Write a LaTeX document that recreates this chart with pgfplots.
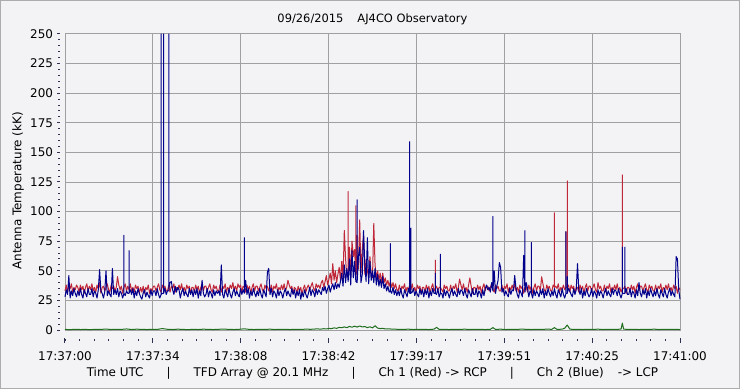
\documentclass[border=0pt]{standalone}
\usepackage{pgfplots}
\pgfplotsset{compat=1.18}
\usepackage{pgfplotstable}
\usepackage{fontspec}
\setmainfont{DejaVu Sans}
\definecolor{bgc}{HTML}{F3F3F5}
\definecolor{gridc}{HTML}{A0A0A0}
\definecolor{ch1}{HTML}{C0283A}
\definecolor{ch2}{HTML}{00008C}
\definecolor{ch3}{HTML}{1E6E1E}
\definecolor{tickc}{HTML}{303050}

\pgfplotstableread[row sep=\\]{
t r b\\
0 33 28\\ 0.5 38 34\\ 1 32 30\\ 1.5 37 46\\ 2 35 27\\ 2.5 39 33\\ 3 32 29\\ 3.5 36 35\\ 4 34 31\\ 4.5 38 28\\
5 36 33\\ 5.5 32 29\\ 6 38 35\\ 6.5 34 30\\ 7 37 27\\ 7.5 31 34\\ 8 36 31\\ 8.5 39 28\\ 9 33 35\\ 9.5 37 30\\
10 34 30\\ 10.5 39 35\\ 11 33 28\\ 11.5 36 33\\ 12 32 31\\ 12.5 38 27\\ 13 35 34\\ 13.5 40 51\\ 14 31 33\\ 14.5 36 31\\
15 37 27\\ 15.5 33 32\\ 16 36 50\\ 16.5 39 29\\ 17 34 33\\ 17.5 32 30\\ 18 38 28\\ 18.5 35 52\\ 19 37 30\\ 19.5 33 34\\
20 36 30\\ 20.5 45 35\\ 21 38 28\\ 21.5 34 33\\ 22 37 31\\ 22.5 31 27\\ 23 36 31\\ 23 36 80\\ 23 36 31\\ 23.5 39 29\\ 24 33 33\\ 24.5 37 31\\
25 34 31\\ 25 34 67\\ 25 34 31\\ 25.5 39 34\\ 26 33 30\\ 26.5 36 35\\ 27 32 27\\ 27.5 38 33\\ 28 35 29\\ 28.5 37 35\\ 29 31 31\\ 29.5 36 28\\
30 32 26\\ 30.5 37 31\\ 31 31 34\\ 31.5 36 28\\ 32 34 32\\ 32.5 38 29\\ 33 31 27\\ 33.5 35 34\\ 34 33 29\\ 34.5 37 33\\
35 37 33\\ 35.5 33 29\\ 36 36 35\\ 36.5 39 30\\ 37 34 27\\ 37.5 32 30\\ 37.5 32 250\\ 37.5 32 30\\ 38 38 31\\ 38.5 35 31\\ 38.5 35 250\\ 38.5 35 31\\ 39 37 35\\ 39.5 33 30\\
40 33 33\\ 40.5 38 33\\ 40.5 38 250\\ 40.5 38 35\\ 41 32 40\\ 41.5 37 41\\ 42 35 34\\ 42.5 39 30\\ 43 32 37\\ 43.5 36 32\\ 44 34 36\\ 44.5 38 34\\
45 34 27\\ 45.5 39 32\\ 46 33 35\\ 46.5 36 29\\ 47 32 33\\ 47.5 38 30\\ 48 35 28\\ 48.5 37 35\\ 49 31 30\\ 49.5 36 34\\
50 36 28\\ 50.5 32 34\\ 51 38 30\\ 51.5 34 35\\ 52 37 27\\ 52.5 31 33\\ 53 36 29\\ 53.5 39 42\\ 54 33 31\\ 54.5 37 28\\
55 37 30\\ 55.5 33 35\\ 56 36 28\\ 56.5 39 33\\ 57 34 31\\ 57.5 32 27\\ 58 38 34\\ 58.5 35 29\\ 59 37 33\\ 59.5 33 31\\
60 33 33\\ 60.5 38 29\\ 61 32 55\\ 61.5 37 30\\ 62 35 27\\ 62.5 39 34\\ 63 32 31\\ 63.5 36 28\\ 64 34 35\\ 64.5 38 30\\
65 35 27\\ 65.5 40 32\\ 66 34 35\\ 66.5 37 29\\ 67 33 33\\ 67.5 39 30\\ 68 36 28\\ 68.5 38 35\\ 69 32 30\\ 69.5 37 34\\
70 36 31\\ 70 36 78\\ 70 36 31\\ 70.5 32 42\\ 71 38 30\\ 71.5 34 35\\ 72 37 27\\ 72.5 31 33\\ 73 36 29\\ 73.5 39 35\\ 74 33 31\\ 74.5 37 28\\
75 37 33\\ 75.5 33 29\\ 76 36 35\\ 76.5 39 30\\ 77 34 27\\ 77.5 32 34\\ 78 38 31\\ 78.5 35 28\\ 79 37 49\\ 79.5 33 52\\
80 33 30\\ 80.5 38 35\\ 81 32 28\\ 81.5 37 33\\ 82 35 31\\ 82.5 39 27\\ 83 32 34\\ 83.5 36 29\\ 84 34 33\\ 84.5 38 31\\
85 34 27\\ 85.5 39 32\\ 86 33 35\\ 86.5 36 29\\ 87 42 33\\ 87.5 38 30\\ 88 35 28\\ 88.5 37 35\\ 89 31 30\\ 89.5 36 34\\
90 35 27\\ 90.5 31 33\\ 91 37 29\\ 91.5 33 34\\ 92 36 26\\ 92.5 30 32\\ 93 35 28\\ 93.5 38 34\\ 94 32 30\\ 94.5 36 27\\
95 38 31\\ 95.5 34 36\\ 96 37 29\\ 96.5 40 34\\ 97 35 32\\ 97.5 33 28\\ 98 39 35\\ 98.5 36 30\\ 99 38 34\\ 99.5 35 32\\
100 40 30\\ 100.5 42 36\\ 101 36 33\\ 101.5 41 37\\ 102 46 31\\ 102.5 38 35\\ 103 43 38\\ 103.5 48 32\\ 104 39 36\\ 104.5 56 39\\
105 42 34\\ 105.5 50 40\\ 106 40 35\\ 106.5 47 39\\ 107 53 36\\ 107.5 42 41\\ 108 58 48\\ 108.5 44 37\\ 109 84 55\\ 109.5 60 40\\
110 45 52\\ 110.5 45 41\\ 110.5 117 41\\ 110.5 45 41\\ 111 70 60\\ 111.5 46 38\\ 112 75 67\\ 112.5 62 44\\ 113 68 58\\ 113.5 46 41\\ 113.5 105 41\\ 113.5 46 41\\ 114 50 40\\ 114 80 110\\ 114 50 40\\ 114.5 52 62\\
115 93 70\\ 115.5 48 40\\ 116 68 47\\ 116.5 80 84\\ 117 47 55\\ 117.5 60 41\\ 118 50 78\\ 118.5 45 39\\ 119 62 58\\ 119.5 46 42\\
120 44 50\\ 120.5 90 40\\ 121 55 52\\ 121.5 43 38\\ 122 50 47\\ 122.5 42 37\\ 123 48 43\\ 123.5 40 36\\ 124 48 45\\ 124.5 40 35\\
125 44 39\\ 125.5 38 33\\ 126 42 37\\ 126.5 37 32\\ 127 41 33\\ 127 41 73\\ 127 41 33\\ 127.5 36 31\\ 128 40 36\\ 128.5 35 30\\ 129 39 34\\ 129.5 34 29\\
130 33 33\\ 130.5 38 29\\ 131 32 35\\ 131.5 37 30\\ 132 35 27\\ 132.5 39 34\\ 133 32 31\\ 133.5 36 28\\ 134 34 35\\ 134.5 38 31\\ 134.5 38 159\\ 134.5 38 31\\
135 34 31\\ 135 34 86\\ 135 34 31\\ 135.5 39 32\\ 136 33 35\\ 136.5 36 29\\ 137 32 33\\ 137.5 38 30\\ 138 35 28\\ 138.5 37 35\\ 139 31 30\\ 139.5 36 34\\
140 36 28\\ 140.5 32 34\\ 141 38 30\\ 141.5 34 35\\ 142 37 27\\ 142.5 31 33\\ 143 36 29\\ 143.5 39 35\\ 144 33 31\\ 144.5 35 31\\ 144.5 59 48\\ 144.5 35 31\\
145 37 30\\ 145.5 33 35\\ 146 36 28\\ 146.5 36 31\\ 146.5 39 64\\ 146.5 36 31\\ 147 34 31\\ 147.5 32 27\\ 148 38 34\\ 148.5 35 29\\ 149 37 33\\ 149.5 33 31\\
150 33 27\\ 150.5 38 32\\ 151 32 35\\ 151.5 37 29\\ 152 35 33\\ 152.5 39 30\\ 153 32 28\\ 153.5 36 35\\ 154 43 30\\ 154.5 38 34\\
155 34 33\\ 155.5 39 29\\ 156 33 35\\ 156.5 36 30\\ 157 32 27\\ 157.5 38 34\\ 158 44 31\\ 158.5 37 28\\ 159 31 35\\ 159.5 36 30\\
160 36 30\\ 160.5 32 35\\ 161 38 28\\ 161.5 34 33\\ 162 37 31\\ 162.5 31 27\\ 163 36 34\\ 163.5 39 29\\ 164 33 35\\ 164.5 37 38\\
165 37 34\\ 165.5 33 36\\ 166 36 32\\ 166.5 39 40\\ 167 34 33\\ 167 34 96\\ 167 34 33\\ 167.5 32 50\\ 168 38 31\\ 168.5 35 37\\ 169 37 42\\ 169.5 33 57\\
170 33 53\\ 170.5 38 32\\ 171 32 35\\ 171.5 37 29\\ 172 35 33\\ 172.5 39 30\\ 173 32 28\\ 173.5 36 35\\ 174 34 30\\ 174.5 38 34\\
175 34 33\\ 175.5 39 46\\ 176 33 35\\ 176.5 36 30\\ 177 32 27\\ 177.5 38 34\\ 178 35 31\\ 178.5 37 28\\ 179 31 63\\ 179.5 36 32\\ 179.5 36 84\\ 179.5 36 32\\
180 36 40\\ 180.5 32 35\\ 181 38 28\\ 181.5 34 33\\ 182 37 31\\ 182 37 74\\ 182 37 31\\ 182.5 31 27\\ 183 36 34\\ 183.5 39 29\\ 184 33 33\\ 184.5 37 31\\
185 37 28\\ 185.5 33 34\\ 186 45 30\\ 186.5 39 35\\ 187 34 27\\ 187.5 32 33\\ 188 38 29\\ 188.5 35 35\\ 189 37 31\\ 189.5 33 28\\
190 33 33\\ 190.5 38 29\\ 191 36 35\\ 191 99 35\\ 191 36 35\\ 191.5 37 30\\ 192 35 27\\ 192.5 39 34\\ 193 32 31\\ 193.5 36 28\\ 194 34 35\\ 194.5 38 30\\
195 34 27\\ 195.5 36 31\\ 195.5 83 83\\ 195.5 36 31\\ 196 36 31\\ 196 126 45\\ 196 36 31\\ 196.5 38 35\\ 197 32 33\\ 197.5 38 30\\ 198 35 28\\ 198.5 37 35\\ 199 31 30\\ 199.5 36 34\\
200 36 56\\ 200.5 32 34\\ 201 38 30\\ 201.5 34 35\\ 202 37 27\\ 202.5 31 33\\ 203 36 29\\ 203.5 39 35\\ 204 33 31\\ 204.5 37 28\\
205 37 30\\ 205.5 33 35\\ 206 36 28\\ 206.5 39 33\\ 207 34 31\\ 207.5 32 27\\ 208 40 34\\ 208.5 35 29\\ 209 37 33\\ 209.5 33 31\\
210 33 27\\ 210.5 38 32\\ 211 32 35\\ 211.5 37 29\\ 212 35 33\\ 212.5 39 30\\ 213 32 28\\ 213.5 36 35\\ 214 34 30\\ 214.5 38 34\\
215 34 33\\ 215.5 39 29\\ 216 33 35\\ 216.5 36 30\\ 217 32 27\\ 217.5 35 31\\ 217.5 131 70\\ 217.5 35 31\\ 218 35 31\\ 218.5 37 31\\ 218.5 37 70\\ 218.5 37 31\\ 219 31 35\\ 219.5 36 30\\
220 36 30\\ 220.5 32 35\\ 221 38 28\\ 221.5 34 33\\ 222 37 31\\ 222.5 31 27\\ 223 36 34\\ 223.5 39 29\\ 224 33 40\\ 224.5 37 31\\
225 37 28\\ 225.5 33 34\\ 226 36 30\\ 226.5 39 35\\ 227 34 27\\ 227.5 32 33\\ 228 38 29\\ 228.5 35 35\\ 229 37 31\\ 229.5 33 28\\
230 33 33\\ 230.5 38 29\\ 231 32 35\\ 231.5 37 30\\ 232 35 27\\ 232.5 39 34\\ 233 32 31\\ 233.5 36 28\\ 234 34 35\\ 234.5 38 30\\
235 34 27\\ 235.5 39 32\\ 236 33 35\\ 236.5 36 29\\ 237 32 33\\ 237.5 38 30\\ 238 35 28\\ 238.5 37 62\\ 239 31 60\\ 239.5 36 34\\
240 34 26\\
}\rbdata

\pgfplotstableread[row sep=\\]{
t g\\
0 0.5\\ 2 0.3\\ 4 0.6\\ 6 0.4\\ 8 0.5\\ 10 0.3\\ 12 0.6\\ 14 0.5\\ 16 0.8\\ 18 0.4\\
20 0.6\\ 22 0.5\\ 24 0.9\\ 26 0.4\\ 28 0.7\\ 30 0.5\\ 32 0.4\\ 34 0.6\\ 36 0.5\\ 38 1.2\\
40 0.6\\ 42 0.4\\ 44 0.7\\ 46 0.5\\ 48 0.3\\ 50 0.6\\ 52 0.4\\ 54 0.7\\ 56 0.5\\ 58 0.4\\
60 0.6\\ 62 0.8\\ 64 0.5\\ 66 0.4\\ 68 0.6\\ 70 1.0\\ 72 0.5\\ 74 0.4\\ 76 0.6\\ 78 0.5\\
80 0.7\\ 82 0.4\\ 84 0.6\\ 86 0.5\\ 88 0.4\\ 90 0.6\\ 92 0.5\\ 94 0.7\\ 96 0.6\\ 98 0.9\\
100 0.8\\ 101 1.1\\ 102 0.9\\ 103 1.3\\ 104 1.2\\ 105 1.8\\ 106 1.4\\ 107 2.2\\ 108 1.9\\ 109 2.6\\
110 2.0\\ 111 3.0\\ 112 2.4\\ 113 3.2\\ 114 2.5\\ 115 3.4\\ 116 2.6\\ 117 2.9\\ 118 2.0\\ 119 2.7\\
120 1.8\\ 121 3.6\\ 122 1.6\\ 123 1.2\\ 124 1.4\\ 125 0.9\\ 126 1.0\\ 128 0.7\\ 130 0.6\\ 132 0.5\\
134 0.7\\ 136 0.4\\ 138 0.6\\ 140 0.5\\ 142 0.4\\ 144 0.7\\ 145 2.2\\ 146 0.6\\ 148 0.5\\ 150 0.4\\
152 0.6\\ 154 0.5\\ 156 0.7\\ 158 0.4\\ 160 0.6\\ 162 0.5\\ 164 0.4\\ 166 0.6\\ 167 2.0\\ 168 0.5\\
170 0.7\\ 172 0.4\\ 174 0.6\\ 176 0.5\\ 178 0.7\\ 180 0.6\\ 182 0.4\\ 184 0.6\\ 186 0.5\\ 188 0.7\\
190 0.6\\ 191 2.0\\ 192 0.5\\ 194 0.7\\ 195 1.5\\ 196 4.2\\ 197 0.8\\ 198 0.5\\ 200 0.6\\ 202 0.4\\
204 0.6\\ 206 0.5\\ 208 0.7\\ 210 0.4\\ 212 0.6\\ 214 0.5\\ 216 0.6\\ 217 0.8\\ 217.5 5.8\\ 218 0.7\\
220 0.5\\ 222 0.6\\ 224 0.4\\ 226 0.6\\ 228 0.5\\ 230 0.7\\ 232 0.4\\ 234 0.6\\ 236 0.5\\ 238 0.6\\
240 0.4\\
}\gdata

\pgfplotsset{
  commonax/.style={
    scale only axis, width=615bp,
    xmin=0, xmax=240,
  },
}

\begin{document}
\begin{tikzpicture}
\fill[bgc] (-65bp,-59bp) rectangle (675bp,330bp);
\draw[gray!65, line width=1.5bp] (-64.25bp,-58.25bp) rectangle (674.25bp,329.25bp);
% x major tick marks (as short grid lines) and tick labels, set apart below the plot box
\begin{axis}[
  commonax, height=5bp, ymin=0, ymax=1,
  at={(0bp,-12.5bp)}, anchor=south west,
  axis line style={draw=none},
  xtick={0,34.2857,68.5714,102.8571,137.1429,171.4286,205.7143,240},
  ytick=\empty,
  xmajorgrids,
  major grid style={tickc, line width=1bp},
  major tick length=0pt,
  xticklabels={17:37:00,17:37:34,17:38:08,17:38:42,17:39:17,17:39:51,17:40:25,17:41:00},
  xticklabel style={font=\fontsize{12}{14}\selectfont, text=black, yshift=-5.5bp},
]
\end{axis}
% x minor tick marks
\begin{axis}[
  commonax, height=2bp, ymin=0, ymax=1,
  at={(0bp,-10.7bp)}, anchor=south west,
  axis line style={draw=none},
  xtick={0,5.7143,11.4286,17.1429,22.8571,28.5714,34.2857,40,45.7143,51.4286,57.1429,62.8571,68.5714,74.2857,80,85.7143,91.4286,97.1429,102.8571,108.5714,114.2857,120,125.7143,131.4286,137.1429,142.8571,148.5714,154.2857,160,165.7143,171.4286,177.1429,182.8571,188.5714,194.2857,200,205.7143,211.4286,217.1429,222.8571,228.5714,234.2857,240},
  ytick=\empty,
  xmajorgrids,
  major grid style={tickc, line width=1bp},
  major tick length=0pt,
  xticklabels={},
]
\end{axis}
% y ticks and labels, set apart left of the plot box
\begin{axis}[
  commonax, height=296bp, ymin=0, ymax=250,
  at={(-5bp,0bp)}, anchor=south west,
  axis line style={draw=none},
  xtick=\empty,
  ytick={0,25,...,250},
  minor y tick num=4,
  tick pos=left,
  tick align=outside,
  major tick length=2.5bp, minor tick length=1.5bp,
  every tick/.style={tickc, line width=1bp},
  /pgf/number format/assume math mode=true,
  yticklabel style={font=\fontsize{12}{14}\selectfont, text=black, xshift=-1bp},
]
\end{axis}
% the plot
\begin{axis}[
  commonax, height=296bp, ymin=0, ymax=250,
  at={(0,0)}, anchor=south west,
  clip=false,
  xtick={0,34.2857,68.5714,102.8571,137.1429,171.4286,205.7143,240},
  ytick={0,25,...,250},
  axis line style={gridc, line width=1bp},
  grid=major,
  major grid style={gridc, line width=1bp},
  xticklabels={}, yticklabels={},
  major tick length=0pt,
  every axis title/.style={at={(axis description cs:0.5,1)}, anchor=base, yshift=11.5bp, font=\fontsize{11.5}{13}\selectfont},
  title={09/26/2015\hspace{14bp}AJ4CO Observatory},
  every axis x label/.style={at={(axis description cs:0.5,0)}, anchor=base, yshift=-46bp, font=\fontsize{12}{14}\selectfont},
  xlabel={Time UTC\hspace{23bp}|\hspace{23bp}TFD Array @ 20.1 MHz\hspace{23bp}|\hspace{23bp}Ch 1 (Red) -> RCP\hspace{23bp}|\hspace{23bp}Ch 2 (Blue)\hspace{14bp}-> LCP},
  every axis y label/.style={at={(axis description cs:-0.0764,0.47)}, rotate=90, anchor=center, font=\fontsize{12}{14}\selectfont},
  ylabel={Antenna Temperature (kK)},
]
\addplot[ch1, line width=1bp, line join=round] table[x=t, y=r] {\rbdata};
\addplot[ch2, line width=1bp, line join=round] table[x=t, y=b] {\rbdata};
\addplot[ch3, line width=1bp, line join=round] table[x=t, y=g] {\gdata};
\end{axis}
\end{tikzpicture}
\end{document}
